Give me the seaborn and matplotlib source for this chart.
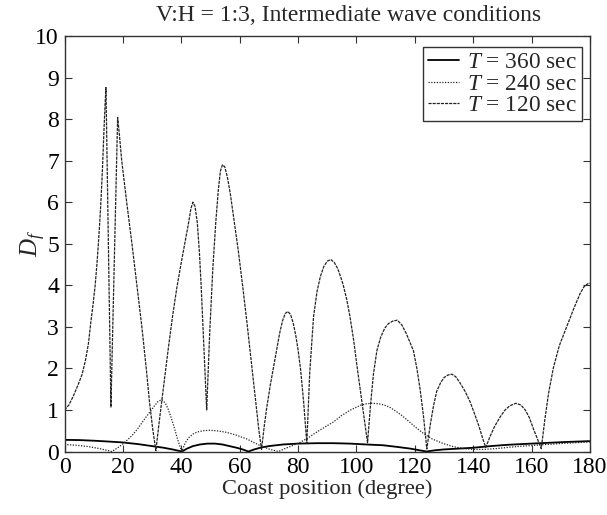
import numpy as np
import pandas as pd
import matplotlib
matplotlib.use("Agg")
import matplotlib.pyplot as plt
import seaborn as sns

# ---- data ----
x_120 = [0, 1.5, 3, 4.5, 6, 7.2, 8.2, 9, 9.8, 10.5, 11.1, 11.6, 12.1, 12.5, 13, 13.5, 13.9, 14.2,
         15.9, 18.2,
         18.7, 19.6, 21.3, 23.1, 24.8, 26.5, 28.0, 29.1, 30.2, 31.3,
         32.5, 34, 35.5, 37, 38.5, 40, 41.3, 42.5, 43.3, 44, 44.7, 45.5, 46.2, 46.8, 47.8, 48.7,
         49.7, 50.8, 51.8, 52.7, 53.4, 54.1, 54.9, 55.8, 56.8, 58, 59.5, 61, 62.5, 64, 65.5, 66.6, 67.5,
         68.4, 69.3, 70.5, 71.6, 72.7, 73.7, 74.7, 75.6, 76.5, 77.4, 78.3, 79.2, 80, 80.9, 81.9, 83,
         84, 85.3, 86.5, 87.6, 88.8, 90, 91.2, 92.4, 93.6, 94.6, 95.5, 96.7, 97.8, 99, 100.2, 101.8, 102.8, 103.8,
         104.8, 105.8, 107, 108.3, 109.7, 111, 112.5, 114, 115.5, 117, 118.3, 119.5, 120.7, 121.8, 123, 124.1,
         125.3, 126.4, 127.5, 128.8, 130, 131.3, 132.7, 134, 135.5, 137.2, 138.9, 140.5, 142, 143.3, 144.3,
         145.7, 147.3, 149.2, 150.8, 152.5, 154.6, 156.3, 157.8, 159.2, 160.6, 162, 163.3,
         164.5, 165.8, 167.5, 169.5, 172, 174.5, 176.6, 178, 179.3, 180]
y_120 = [1.0, 1.12, 1.33, 1.58, 1.85, 2.2, 2.6, 3.1, 3.55, 4.0, 4.5, 5.0, 5.55, 6.05, 6.8, 7.7, 8.35, 8.76,
         1.07, 8.04,
         7.7, 7.0, 6.0, 5.0, 4.0, 3.0, 2.0, 1.2, 0.55, 0.02,
         0.75, 1.6, 2.45, 3.25, 3.95, 4.55, 5.05, 5.5, 5.85, 6.0, 5.9, 5.5, 4.8, 4.0, 2.4, 1.0,
         2.8, 4.4, 5.5, 6.3, 6.75, 6.9, 6.85, 6.6, 6.2, 5.6, 4.85, 4.0, 3.1, 2.15, 1.2, 0.5, 0.05,
         0.6, 1.07, 1.6, 2.03, 2.45, 2.85, 3.15, 3.32, 3.37, 3.3, 3.1, 2.8, 2.45, 1.95, 1.2, 0.2,
         1.9, 3.24, 3.85, 4.2, 4.45, 4.58, 4.62, 4.55, 4.4, 4.2, 4.0, 3.65, 3.24, 2.7, 2.05, 1.23, 0.7, 0.21,
         1.1, 1.85, 2.43, 2.75, 2.97, 3.08, 3.14, 3.16, 3.05, 2.85, 2.63, 2.43, 2.0, 1.5, 0.83, 0.06,
         0.65, 1.1, 1.45, 1.65, 1.78, 1.84, 1.86, 1.8, 1.65, 1.45, 1.2, 0.9, 0.6, 0.3, 0.1,
         0.35, 0.6, 0.83, 0.99, 1.1, 1.16, 1.12, 1.0, 0.82, 0.55, 0.3, 0.07,
         0.75, 1.4, 2.03, 2.55, 3.0, 3.45, 3.8, 3.97, 4.04, 4.05]

x_240 = [0, 4, 8, 12, 16.2, 18, 19.6, 21.4, 23.1, 25, 27.1, 29, 30.5, 32, 33.3, 34.5, 35.5, 36.5,
         37.5, 38.5, 39.4, 40.2,
         41.3, 42.5, 44, 45.5, 47.5, 49.5, 52, 55.6, 59, 62.5, 65, 67.6, 70.5, 73.3,
         75.5, 78, 80.7, 83.5, 86, 89, 92.1, 95, 98, 101.3, 103.5, 105.3, 107.5, 109.5, 111.5,
         113.5, 115.5, 118, 120.5, 123, 126, 129.8, 133, 136.6, 140, 143.5, 148, 152, 157,
         162.9, 172, 180]
y_240 = [0.17, 0.15, 0.12, 0.07, 0.0, 0.08, 0.16, 0.27, 0.38, 0.54, 0.75, 0.93, 1.07, 1.2, 1.25, 1.17, 1.02, 0.82,
         0.6, 0.35, 0.15, 0.0,
         0.2, 0.33, 0.42, 0.47, 0.5, 0.51, 0.5, 0.46, 0.39, 0.3, 0.21, 0.12, 0.05, 0.0,
         0.07, 0.14, 0.22, 0.33, 0.45, 0.58, 0.71, 0.87, 1.0, 1.11, 1.15, 1.16, 1.15, 1.12, 1.06,
         0.97, 0.87, 0.72, 0.57, 0.43, 0.3, 0.19, 0.12, 0.07, 0.05, 0.05, 0.07, 0.1, 0.13,
         0.16, 0.2, 0.23]

x_360 = [0, 5, 10, 15, 19.6, 25, 31, 34, 37, 40.2, 42, 44, 46.5, 49, 51.5, 54, 56.5, 59, 61, 63,
         65, 67, 70, 75, 80, 86.4, 92, 97.8, 103, 109.2, 114, 118.4, 121.5, 124, 127, 130, 135,
         140, 146, 151.5, 157, 162.9, 172, 180]
y_360 = [0.28, 0.275, 0.26, 0.24, 0.22, 0.18, 0.12, 0.09, 0.05, 0.0, 0.07, 0.13, 0.17, 0.19, 0.19, 0.17,
         0.13, 0.09, 0.05, 0.0,
         0.05, 0.09, 0.13, 0.17, 0.19, 0.2, 0.2, 0.19, 0.17, 0.15, 0.11, 0.07, 0.03, 0.0, 0.03, 0.05, 0.07,
         0.09, 0.13, 0.16, 0.18, 0.2, 0.23, 0.25]

labels = ["$T$ = 360 sec", "$T$ = 240 sec", "$T$ = 120 sec"]
x_ticks = [0, 20, 40, 60, 80, 100, 120, 140, 160, 180]
y_ticks = list(range(0, 11))

# ---- style ----
sns.set_theme(style="ticks")
plt.rcParams["font.family"] = ["Liberation Serif", "DejaVu Serif"]
plt.rcParams["mathtext.fontset"] = "custom"
plt.rcParams["mathtext.rm"] = "Liberation Serif"
plt.rcParams["mathtext.it"] = "Liberation Serif:italic"
plt.rcParams["xtick.direction"] = "in"
plt.rcParams["ytick.direction"] = "in"

fig = plt.figure(figsize=(6.07, 5.15), dpi=100)
ax = fig.add_axes([64.5 / 607, 1 - 451.5 / 515, (590 - 64.5) / 607, (451.5 - 36) / 515])

sns.lineplot(x=x_360, y=y_360, ax=ax, color="black", linewidth=1.3,
             linestyle="-", label=labels[0], sort=False)
sns.lineplot(x=x_240, y=y_240, ax=ax, color="#222222", linewidth=0.9,
             linestyle=(0, (1, 1.2)), label=labels[1], sort=False)
sns.lineplot(x=x_120, y=y_120, ax=ax, color="#222222", linewidth=0.9,
             linestyle=(0, (2.5, 0.8)), label=labels[2], sort=False)

ax.set_xlim(0, 180)
ax.set_ylim(0, 10)
ax.set_xticks(x_ticks)
ax.set_yticks(y_ticks)
ax.tick_params(axis="both", which="both", direction="in", top=True, right=True,
               labelsize=17, length=5, width=0.8, color="#333333", pad=4,
               labelcolor="black")
for lab in ax.get_xticklabels() + ax.get_yticklabels():
    lab.set_family(["Liberation Serif", "DejaVu Serif"])
for s in ax.spines.values():
    s.set_visible(True)
    s.set_color("#333333")
    s.set_linewidth(1.0)

ax.set_xlabel("Coast position (degree)", fontsize=16.2, labelpad=1)
ax.set_ylabel("$D_f$", fontsize=18)
ax.yaxis.set_label_coords(-0.031, 0.5)
ax.set_title("V:H = 1:3, Intermediate wave conditions", fontsize=17, pad=11, x=0.54)

leg = ax.legend(loc="upper right", bbox_to_anchor=(0.9848, 0.9735),
                fontsize=16.8, frameon=True, fancybox=False,
                edgecolor="#333333", framealpha=1, handlelength=1.3,
                handletextpad=0.35, labelspacing=0.0, borderpad=0.22,
                borderaxespad=0.0)
leg.get_frame().set_linewidth(1.0)

fig.savefig("out.png", dpi=100)
